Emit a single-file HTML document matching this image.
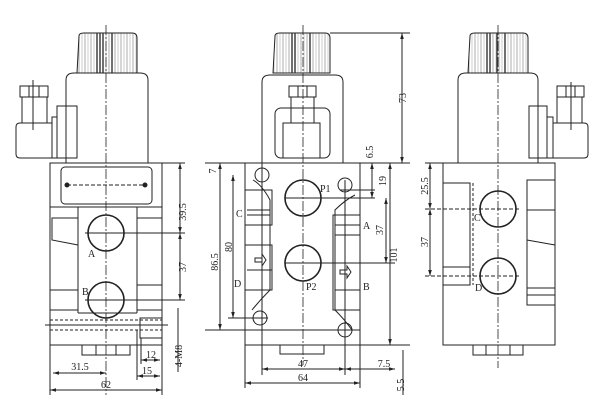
<!DOCTYPE html>
<html><head><meta charset="utf-8"><style>
html,body{margin:0;padding:0;background:#fff;}
svg{display:block;}
text{font-family:"Liberation Serif",serif;font-size:10px;fill:#222;}
</style></head><body>
<svg width="600" height="416" viewBox="0 0 600 416" xmlns="http://www.w3.org/2000/svg">
<defs>
<marker id="a" viewBox="0 0 10 10" refX="10" refY="5" markerWidth="6" markerHeight="6" orient="auto-start-reverse"><path d="M0,2 L10,5 L0,8 z" fill="#222"/></marker>
<pattern id="kn" width="6" height="10" patternUnits="userSpaceOnUse"><rect width="6" height="10" fill="#fff"/><line x1="1" y1="0" x2="1" y2="10" stroke="#777" stroke-width="0.6"/><line x1="4" y1="0" x2="4" y2="10" stroke="#aaa" stroke-width="0.6"/></pattern>
</defs>
<g fill="none" stroke="#222" stroke-width="1">
<!-- LEFT VIEW -->
<path d="M79,36 Q79,33 84,33 L132,33 Q137,33 137,38 L137,73 L77,73 Z" fill="url(#kn)"/>
<path d="M97,33 L97,73 M100,33 L100,73 M103,33 L103,73 M112,33 L112,73" stroke="#333" stroke-width="1.4"/>
<path d="M66,163 L66,80 Q66,73 74,73 L140,73 Q148,73 148,80 L148,163"/>
<rect x="20" y="86" width="28" height="11"/>
<line x1="29" y1="86" x2="29" y2="97"/><line x1="39" y1="86" x2="39" y2="97"/>
<rect x="22" y="97" width="25" height="26"/>
<path d="M52,123 L20,123 Q16,123 16,127 L16,154 Q16,158 20,158 L52,158 Z"/>
<rect x="52" y="117" width="5" height="41"/>
<rect x="57" y="106" width="20" height="52"/>
<line x1="33" y1="80" x2="33" y2="130"/>
<rect x="50" y="163" width="112" height="182"/>
<rect x="61" y="167" width="91" height="37" rx="4"/>
<line x1="67" y1="185" x2="145" y2="185" stroke-dasharray="4 2"/>
<circle cx="67" cy="185" r="2" fill="#222"/><circle cx="145" cy="185" r="2" fill="#222"/>
<line x1="50" y1="207" x2="162" y2="207"/>
<path d="M78,207 L78,313 M137,207 L137,313 M78,313 L137,313"/>
<path d="M52,218 L78,218 L78,245 L52,240 Z"/>
<path d="M50,290 L78,290 M50,310 L78,310 M137,285 L162,285 M137,310 L162,310 M137,218 L162,218"/>
<line x1="50" y1="320" x2="162" y2="320" stroke-dasharray="3 2"/>
<line x1="50" y1="330" x2="162" y2="330" stroke-dasharray="3 2"/>
<line x1="45" y1="325" x2="168" y2="325"/>
<rect x="140" y="318" width="22" height="20"/>
<circle cx="106" cy="233" r="18" stroke-width="1.6"/>
<circle cx="106" cy="300" r="18" stroke-width="1.6"/>
<line x1="106" y1="25" x2="106" y2="395" stroke-dasharray="10 2 2 2" stroke-width="0.8"/>
<line x1="85" y1="233" x2="185" y2="233"/><line x1="85" y1="300" x2="185" y2="300"/>
<rect x="82" y="345" width="48" height="10"/>
<line x1="96" y1="345" x2="96" y2="355"/><line x1="116" y1="345" x2="116" y2="355"/>
<line x1="162" y1="163" x2="185" y2="163"/>
<line x1="180" y1="163" x2="180" y2="233" marker-start="url(#a)" marker-end="url(#a)"/>
<line x1="180" y1="233" x2="180" y2="300" marker-start="url(#a)" marker-end="url(#a)"/>
<line x1="178" y1="308" x2="178" y2="372"/>
<line x1="53" y1="373" x2="106" y2="373" marker-start="url(#a)" marker-end="url(#a)"/>
<line x1="50" y1="390" x2="162" y2="390" marker-start="url(#a)" marker-end="url(#a)"/>
<line x1="50" y1="345" x2="50" y2="395"/><line x1="162" y1="345" x2="162" y2="395"/>
<line x1="141" y1="360" x2="160" y2="360" marker-start="url(#a)" marker-end="url(#a)"/>
<line x1="137" y1="376" x2="160" y2="376" marker-start="url(#a)" marker-end="url(#a)"/>
<line x1="137" y1="330" x2="137" y2="380"/><line x1="141" y1="338" x2="141" y2="364"/>

<!-- MIDDLE VIEW -->
<path d="M275,36 Q275,33 280,33 L325,33 Q330,33 330,38 L330,73 L273,73 Z" fill="url(#kn)"/>
<path d="M292,33 L292,73 M295,33 L295,73 M310,33 L310,73" stroke="#333" stroke-width="1.4"/>
<path d="M262,163 L262,82 Q262,75 270,75 L335,75 Q343,75 343,82 L343,163"/>
<rect x="275" y="108" width="55" height="50" rx="6"/>
<rect x="289" y="86" width="27" height="11"/>
<line x1="298" y1="86" x2="298" y2="97"/><line x1="307" y1="86" x2="307" y2="97"/>
<rect x="291" y="97" width="23" height="26"/>
<rect x="283" y="123" width="37" height="35"/>
<rect x="245" y="163" width="115" height="167"/>
<rect x="245" y="330" width="115" height="15"/>
<rect x="280" y="345" width="44" height="9"/>
<circle cx="262" cy="175" r="7"/><circle cx="345" cy="185" r="7"/>
<circle cx="260" cy="318" r="7"/><circle cx="345" cy="330" r="7"/>
<circle cx="303" cy="198" r="18" stroke-width="1.6"/>
<circle cx="303" cy="263" r="18" stroke-width="1.6"/>
<line x1="303" y1="25" x2="303" y2="365" stroke-dasharray="10 2 2 2" stroke-width="0.8"/>
<line x1="262" y1="160" x2="262" y2="375"/>
<line x1="345" y1="180" x2="345" y2="375"/>
<path d="M253,180 Q262,185 270,200 L270,290 Q260,300 252,310 M245,190 L272,190 L272,225 L245,225 M245,245 L272,245 L272,290 L245,290"/>
<path d="M247,210 L270,210 M247,215 L270,215 M247,270 L272,270"/>
<path d="M355,195 Q345,200 335,210 L335,310 Q345,320 352,330 M360,215 L333,215 L333,310 L360,310"/>
<path d="M335,225 L360,225 M335,235 L360,235 M335,290 L360,290"/>
<path d="M255,258 L262,258 L262,254 L266,260 L262,266 L262,262 L255,262 Z"/>
<path d="M340,270 L347,270 L347,266 L351,272 L347,278 L347,274 L340,274 Z"/>
<line x1="285" y1="198" x2="375" y2="198"/><line x1="285" y1="263" x2="395" y2="263"/>
<line x1="330" y1="33" x2="410" y2="33"/>
<line x1="330" y1="163" x2="410" y2="163"/>
<line x1="205" y1="163" x2="245" y2="163"/>
<line x1="205" y1="330" x2="360" y2="330"/>
<line x1="228" y1="318" x2="268" y2="318"/>
<line x1="402" y1="33" x2="402" y2="163" marker-start="url(#a)" marker-end="url(#a)"/>
<line x1="390" y1="163" x2="390" y2="345" marker-start="url(#a)" marker-end="url(#a)"/>
<line x1="360" y1="345" x2="410" y2="345"/>
<line x1="372" y1="163" x2="372" y2="198" marker-start="url(#a)" marker-end="url(#a)"/>
<line x1="386" y1="198" x2="386" y2="263" marker-start="url(#a)" marker-end="url(#a)"/>
<line x1="340" y1="190" x2="375" y2="190"/>
<line x1="220" y1="163" x2="220" y2="330" marker-start="url(#a)" marker-end="url(#a)"/>
<line x1="233" y1="175" x2="233" y2="318" marker-start="url(#a)" marker-end="url(#a)"/>
<line x1="262" y1="369" x2="345" y2="369" marker-start="url(#a)" marker-end="url(#a)"/>
<line x1="345" y1="369" x2="395" y2="369" marker-start="url(#a)" marker-end="url(#a)"/>
<line x1="245" y1="383" x2="360" y2="383" marker-start="url(#a)" marker-end="url(#a)"/>
<line x1="245" y1="345" x2="245" y2="388"/><line x1="360" y1="345" x2="360" y2="388"/>
<line x1="403" y1="350" x2="403" y2="395"/>

<!-- RIGHT VIEW -->
<path d="M470,36 Q470,33 475,33 L523,33 Q528,33 528,38 L528,73 L468,73 Z" fill="url(#kn)"/>
<path d="M487,33 L487,73 M490,33 L490,73 M497,33 L497,73 M505,33 L505,73" stroke="#333" stroke-width="1.4"/>
<path d="M458,163 L458,80 Q458,73 466,73 L530,73 Q538,73 538,80 L538,163"/>
<rect x="529" y="106" width="18" height="52"/>
<rect x="547" y="117" width="6" height="41"/>
<path d="M553,123 L584,123 Q588,123 588,127 L588,154 Q588,158 584,158 L553,158 Z"/>
<rect x="557" y="97" width="25" height="26"/>
<rect x="557" y="86" width="27" height="11"/>
<line x1="566" y1="86" x2="566" y2="97"/><line x1="575" y1="86" x2="575" y2="97"/>
<line x1="571" y1="82" x2="571" y2="130"/>
<rect x="443" y="163" width="112" height="182"/>
<path d="M443,183 L470,183 L470,285 L443,285 M443,267 L470,267"/>
<line x1="473" y1="183" x2="473" y2="285" stroke-dasharray="3 2"/>
<path d="M527,180 L555,180 L555,305 L527,305 Z M527,210 L555,210 M527,240 L555,245 M555,210 L555,240 M527,288 L555,288 M527,295 L555,295"/>
<circle cx="498" cy="209" r="18" stroke-width="1.6"/>
<circle cx="498" cy="276" r="18" stroke-width="1.6"/>
<line x1="498" y1="25" x2="498" y2="368" stroke-dasharray="10 2 2 2" stroke-width="0.8"/>
<line x1="425" y1="209" x2="520" y2="209" stroke-dasharray="4 2"/>
<line x1="425" y1="276" x2="520" y2="276" stroke-dasharray="4 2"/>
<line x1="425" y1="163" x2="443" y2="163"/>
<line x1="430" y1="163" x2="430" y2="209" marker-start="url(#a)" marker-end="url(#a)"/>
<line x1="430" y1="209" x2="430" y2="276" marker-start="url(#a)" marker-end="url(#a)"/>
<rect x="473" y="345" width="50" height="10"/>
<line x1="486" y1="345" x2="486" y2="355"/><line x1="510" y1="345" x2="510" y2="355"/>
</g>
<!-- text labels -->
<text x="88" y="257">A</text><text x="82" y="295">B</text>
<text x="186" y="212" transform="rotate(-90 186 212)" text-anchor="middle">39.5</text>
<text x="186" y="267" transform="rotate(-90 186 267)" text-anchor="middle">37</text>
<text x="80" y="370" text-anchor="middle">31.5</text>
<text x="106" y="388" text-anchor="middle">62</text>
<text x="151" y="358" text-anchor="middle">12</text>
<text x="147" y="374" text-anchor="middle">15</text>
<text x="182" y="356" transform="rotate(-90 182 356)" text-anchor="middle">4-M8</text>
<text x="320" y="192">P1</text><text x="306" y="290">P2</text>
<text x="236" y="217">C</text><text x="234" y="287">D</text>
<text x="363" y="229">A</text><text x="363" y="290">B</text>
<text x="406" y="98" transform="rotate(-90 406 98)" text-anchor="middle">73</text>
<text x="373" y="152" transform="rotate(-90 373 152)" text-anchor="middle">6.5</text>
<text x="386" y="181" transform="rotate(-90 386 181)" text-anchor="middle">19</text>
<text x="383" y="230" transform="rotate(-90 383 230)" text-anchor="middle">37</text>
<text x="397" y="255" transform="rotate(-90 397 255)" text-anchor="middle">101</text>
<text x="218" y="262" transform="rotate(-90 218 262)" text-anchor="middle">86.5</text>
<text x="232" y="247" transform="rotate(-90 232 247)" text-anchor="middle">80</text>
<text x="216" y="171" transform="rotate(-90 216 171)" text-anchor="middle">7</text>
<text x="303" y="367" text-anchor="middle">47</text>
<text x="384" y="367" text-anchor="middle">7.5</text>
<text x="303" y="381" text-anchor="middle">64</text>
<text x="404" y="385" transform="rotate(-90 404 385)" text-anchor="middle">5.5</text>
<text x="474" y="221">C</text><text x="475" y="291">D</text>
<text x="428" y="186" transform="rotate(-90 428 186)" text-anchor="middle">25.5</text>
<text x="428" y="242" transform="rotate(-90 428 242)" text-anchor="middle">37</text>
</svg>
</body></html>
